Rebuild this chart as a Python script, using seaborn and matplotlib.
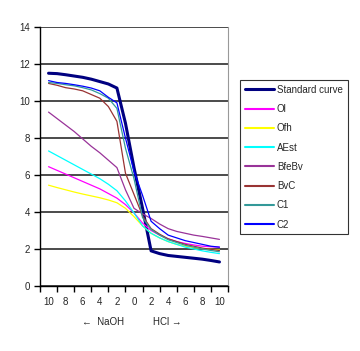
import matplotlib
matplotlib.use("Agg")
import matplotlib.pyplot as plt
import seaborn as sns
import pandas as pd
import numpy as np

sns.set_style("white")
plt.rcParams['font.family'] = ['Liberation Sans', 'DejaVu Sans']

# x: negative = NaOH added (ml), positive = HCl added (ml)
x_vals = list(range(-10, 11))
tick_labels = ["10", "8", "6", "4", "2", "0", "2", "4", "6", "8", "10"]

standard = [11.5, 11.48, 11.42, 11.35, 11.28, 11.18, 11.05, 10.92, 10.7, 8.8, 6.4,
            4.2, 1.9, 1.75, 1.65, 1.6, 1.55, 1.5, 1.45, 1.38, 1.3]
ol = [6.45, 6.25, 6.05, 5.85, 5.65, 5.45, 5.25, 5.0, 4.75, 4.4, 3.95,
      3.4, 3.0, 2.75, 2.55, 2.4, 2.3, 2.22, 2.15, 2.12, 2.1]
ofh = [5.45, 5.32, 5.2, 5.08, 4.97, 4.87, 4.77, 4.65, 4.5, 4.2, 3.75,
       3.25, 2.85, 2.6, 2.4, 2.25, 2.15, 2.07, 2.02, 1.98, 1.95]
aest = [7.3, 7.05, 6.8, 6.55, 6.3, 6.05, 5.8, 5.5, 5.15, 4.6, 3.95,
        3.25, 2.85, 2.6, 2.4, 2.25, 2.1, 2.0, 1.9, 1.82, 1.75]
bfebv = [9.4, 9.05, 8.7, 8.35, 7.95, 7.55, 7.2, 6.8, 6.4, 5.2, 4.2,
         3.9, 3.65, 3.35, 3.1, 2.95, 2.85, 2.75, 2.68, 2.6, 2.52]
bvc = [10.95, 10.85, 10.72, 10.65, 10.55, 10.35, 10.15, 9.7, 8.9, 6.1, 4.95,
       3.8, 3.1, 2.8, 2.55, 2.4, 2.25, 2.15, 2.05, 1.98, 1.92]
c1 = [11.0, 10.95, 10.88, 10.82, 10.72, 10.6, 10.4, 10.15, 9.6, 7.45, 5.8,
      3.7, 3.05, 2.75, 2.5, 2.35, 2.2, 2.1, 2.0, 1.92, 1.85]
c2 = [11.1, 11.0, 10.95, 10.88, 10.8, 10.7, 10.55, 10.2, 9.9, 8.0, 6.2,
      4.9, 3.5, 3.1, 2.75, 2.6, 2.45, 2.35, 2.25, 2.15, 2.1]

series_names = ["Standard curve", "Ol", "Ofh", "AEst", "BfeBv", "BvC", "C1", "C2"]
series_values = [standard, ol, ofh, aest, bfebv, bvc, c1, c2]
colors = ["#000080", "#FF00FF", "#FFFF00", "#00FFFF", "#993399", "#993333", "#339999", "#0000FF"]
widths = [2.2, 0.9, 0.9, 0.9, 0.9, 0.9, 0.9, 0.9]

df = pd.DataFrame({
    "x": np.tile(x_vals, len(series_names)),
    "pH": np.concatenate(series_values),
    "series": np.repeat(series_names, len(x_vals)),
})

fig = plt.figure(figsize=(3.6, 3.51), dpi=100)
ax = fig.add_axes([40/360, 1-286/351, 188/360, 259/351])

handles = []
for name, col, lw in zip(series_names, colors, widths):
    sub = df[df["series"] == name]
    sns.lineplot(data=sub, x="x", y="pH", color=col, linewidth=lw, ax=ax,
                 label=name, legend=False, zorder=3 if name != "Standard curve" else 2)
    handles.append(plt.Line2D([], [], color=col, linewidth=lw + 0.6 if lw < 1 else lw))

ax.set_xlim(-11, 11)
ax.set_ylim(0, 14)
ax.set_yticks(range(0, 15, 2))
ax.set_yticklabels([str(v) for v in range(0, 15, 2)], fontsize=7)
ax.yaxis.grid(True, color="#1a1a1a", linewidth=1.1)
ax.set_axisbelow(True)

ax.set_xticks(np.arange(-11, 12, 2))
ax.set_xticklabels([])
ax.set_xticks(np.arange(-10, 11, 2), minor=True)
ax.set_xticklabels(tick_labels, minor=True, fontsize=7)
ax.tick_params(axis="x", which="major", direction="out", length=4, width=1, color="black", bottom=True)
ax.tick_params(axis="x", which="minor", length=0, pad=8)
ax.tick_params(axis="y", which="major", direction="out", length=4, width=1, color="black", left=True, pad=3)

ax.set_xlabel("")
ax.set_ylabel("")
for side in ["left", "bottom"]:
    ax.spines[side].set_color("black")
    ax.spines[side].set_linewidth(1.0)
ax.spines["top"].set_visible(False)
ax.spines["right"].set_color("#999999")
ax.spines["right"].set_linewidth(0.8)

fig.text(103/360, 1-322/351, "\u2190  NaOH", fontsize=7, ha="center", va="center")
fig.text(167/360, 1-322/351, "HCl \u2192", fontsize=7, ha="center", va="center")

leg = fig.legend(handles, series_names, loc="upper left",
                 bbox_to_anchor=(240/360, 1-80/351), fontsize=7, frameon=True,
                 fancybox=False, edgecolor="black", handlelength=3.0,
                 handletextpad=0.3, labelspacing=0.95, borderpad=0.5,
                 borderaxespad=0)
leg.get_frame().set_linewidth(0.8)

fig.savefig("out.png", dpi=100)
